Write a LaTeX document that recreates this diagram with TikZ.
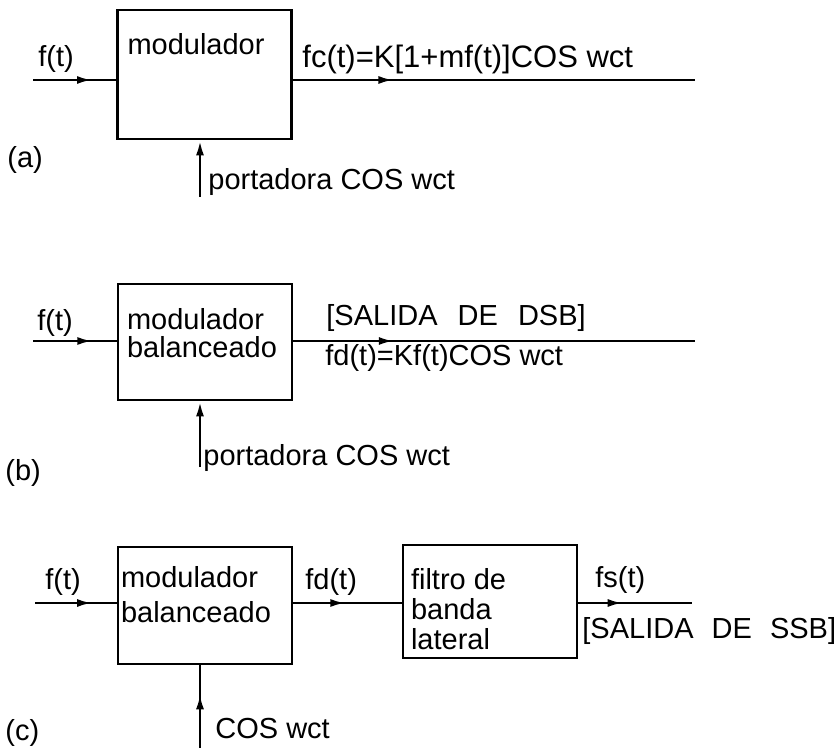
\documentclass[tikz,border=0pt]{standalone}
\usepackage{fontspec}
\setmainfont{Liberation Sans}
\usetikzlibrary{arrows.meta,positioning,decorations.markings}

\tikzset{
  blk/.style={draw, line width=1.4pt, inner sep=0pt, minimum width=87pt},
  lbl/.style={inner sep=0pt, anchor=base west, font=\fontsize{14.5}{15}\selectfont},
  intxt/.style={inner sep=0pt, align=left, font=\fontsize{14.5}{15}\selectfont},
  sig/.style={line width=1.3pt},
  feed/.style={-{Latex[length=7.5pt,width=4pt]}},
  midarrow/.style={postaction={decorate},
    decoration={markings, mark=at position #1 with {\arrow{Latex[length=7.5pt,width=4pt]}}}}
}

\begin{document}
\begin{tikzpicture}[x=0.5pt,y=-0.5pt]
  \useasboundingbox (0,0) rectangle (839,748);

  % (a) modulador
  \node[blk, minimum height=64.5pt] (moda) at (204.5,74.5) {};
  \node[intxt, below right=12pt and 5.5pt of moda.north west] (txta) {modulador};
  \coordinate (ina) at (33,80);
  \coordinate (outa) at (695,80);
  \coordinate (cara) at (200,197);
  \draw[sig, midarrow=0.71] (ina) -- (ina -| moda.west);
  \draw[sig, midarrow=0.25] (outa -| moda.east) -- (outa);
  \draw[sig, feed] (cara) -- (cara |- moda.south);
  \node[lbl] (fa) at (38,67) {f(t)};
  \node[lbl, font=\fontsize{15.5}{16}\selectfont] (fca) at (302,68) {fc(t)=K[1+mf(t)]COS wct};
  \node[lbl] (porta) at (208,190) {portadora COS wct};
  \node[lbl] (laba) at (7,168) {(a)};

  % (b) modulador balanceado, salida DSB
  \node[blk, minimum height=58pt] (modb) at (205,342) {};
  \node[intxt, below right=12.5pt and 5pt of modb.north west] (txtb) {modulador\\[-1pt]balanceado};
  \coordinate (inb) at (33,341);
  \coordinate (outb) at (695,341);
  \coordinate (carb) at (200,467);
  \draw[sig, midarrow=0.71] (inb) -- (inb -| modb.west);
  \draw[sig, midarrow=0.25] (outb -| modb.east) -- (outb);
  \draw[sig, feed] (carb) -- (carb |- modb.south);
  \node[lbl] (fb) at (37,330) {f(t)};
  \node[lbl] (salb) at (326,325) {[SALIDA\hspace{6pt} DE\hspace{6pt} DSB]};
  \node[lbl] (fdb) at (325,365) {fd(t)=Kf(t)COS wct};
  \node[lbl] (portb) at (203,465) {portadora COS wct};
  \node[lbl] (labb) at (5,480) {(b)};

  % (c) modulador balanceado + filtro, salida SSB
  \node[blk, minimum height=58.5pt] (modc) at (205,605.5) {};
  \node[intxt, below right=10pt and 2pt of modc.north west] (txtc) {modulador\\[2.5pt]balanceado};
  \node[blk, minimum height=56.5pt] (filc) at (490,601.5) {};
  \node[intxt, below right=12pt and 4.5pt of filc.north west] (txtf) {filtro de\\banda\\lateral};
  \coordinate (inc) at (35,603);
  \coordinate (outc) at (692,603);
  \coordinate (carc) at (200,748);
  \draw[sig, midarrow=0.7] (inc) -- (inc -| modc.west);
  \draw[sig, midarrow=0.48] (inc -| modc.east) -- (inc -| filc.west);
  \draw[sig, midarrow=0.39] (outc -| filc.east) -- (outc);
  \draw[sig, midarrow=0.65] (carc) -- (carc |- modc.south);
  \node[lbl] (fcin) at (45,589) {f(t)};
  \node[lbl] (fdc) at (305,589) {fd(t)};
  \node[lbl] (fsc) at (595,587) {fs(t)};
  \node[lbl] (salc) at (582,638) {[SALIDA\hspace{5pt} DE\hspace{5pt} SSB]};
  \node[lbl] (cosc) at (215,738) {COS wct};
  \node[lbl] (labc) at (5,740) {(c)};
\end{tikzpicture}
\end{document}
